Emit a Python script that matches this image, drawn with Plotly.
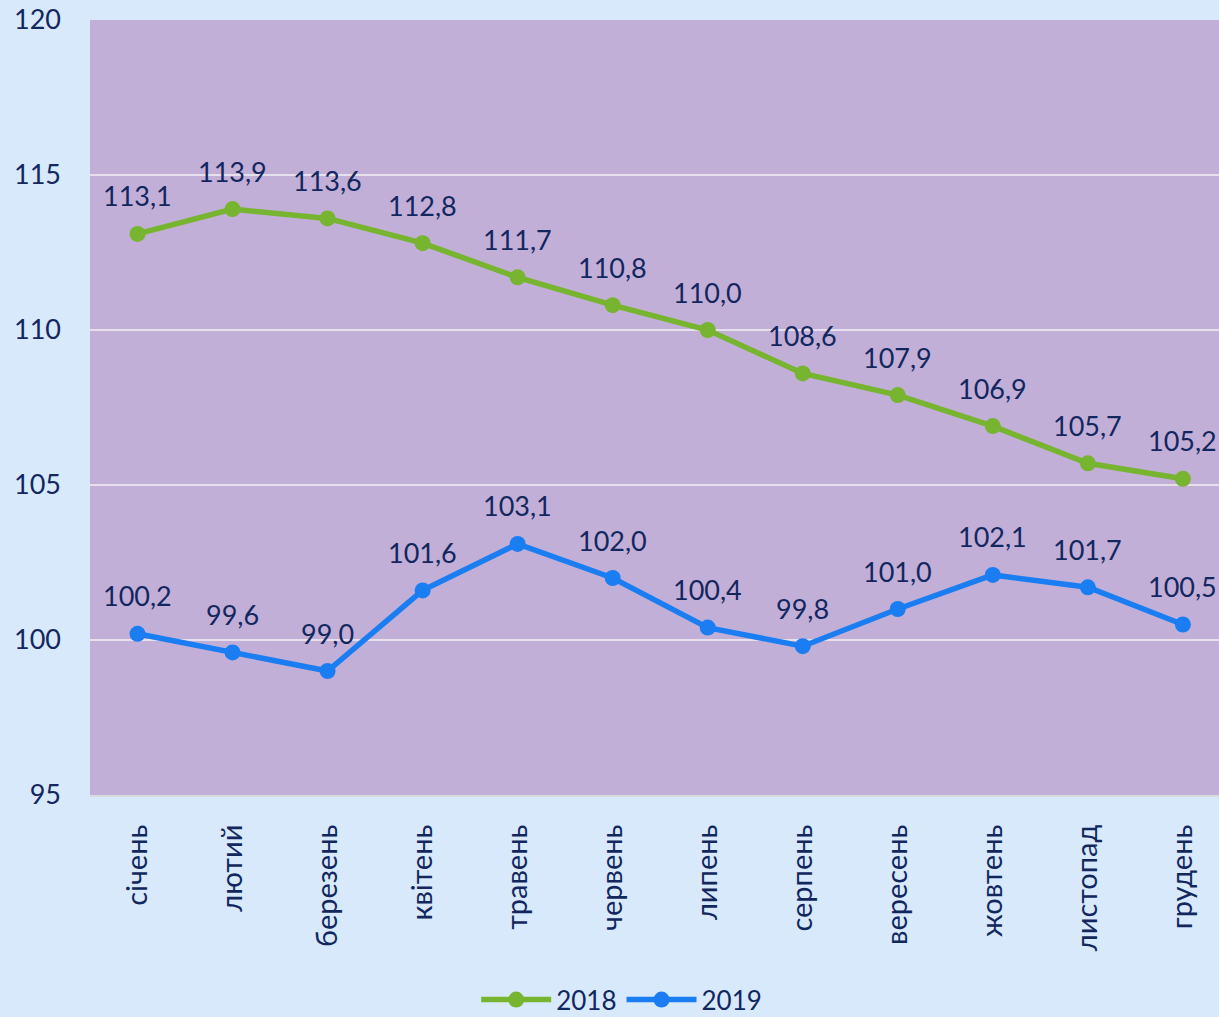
import plotly.graph_objects as go

months = ["січень", "лютий", "березень", "квітень", "травень", "червень",
          "липень", "серпень", "вересень", "жовтень", "листопад", "грудень"]
v2018 = [113.1, 113.9, 113.6, 112.8, 111.7, 110.8, 110.0, 108.6, 107.9, 106.9, 105.7, 105.2]
v2019 = [100.2, 99.6, 99.0, 101.6, 103.1, 102.0, 100.4, 99.8, 101.0, 102.1, 101.7, 100.5]
yticks = [95, 100, 105, 110, 115, 120]

FONT = "Lato, 'Open Sans', sans-serif"
TXT = "#12275E"
GREEN = "#77B42F"
BLUE = "#1A7EF2"

fig = go.Figure()
for name, vals, col in [("2018", v2018, GREEN), ("2019", v2019, BLUE)]:
    fig.add_trace(go.Scatter(
        x=months, y=vals, name=name, mode="lines+markers",
        line=dict(color=col, width=5.5),
        marker=dict(color=col, size=16),
    ))
    for m, v in zip(months, vals):
        fig.add_annotation(x=m, y=v, text=f"{v:.1f}".replace(".", ","),
                           showarrow=False, yshift=38,
                           font=dict(family=FONT, size=27, color=TXT))

fig.update_layout(
    width=1219, height=1017,
    margin=dict(l=90, r=0, t=20, b=222, autoexpand=False),
    paper_bgcolor="#D8E9FC", plot_bgcolor="#C2AFD8",
    font=dict(family=FONT, color=TXT, size=26),
    showlegend=True,
    legend=dict(orientation="h", x=0.51, xref="container", xanchor="center",
                y=0.017, yref="container", yanchor="middle",
                font=dict(size=26, color=TXT), itemwidth=70, tracegroupgap=0),
)
fig.update_xaxes(range=[-0.5, 11.38], tickangle=-90, showgrid=False,
                 showline=True, linecolor="#D9D9D9", linewidth=2,
                 ticks="", ticklabelstandoff=16,
                 tickfont=dict(size=29, color=TXT))
fig.update_yaxes(range=[95, 120], tickvals=yticks, showgrid=True,
                 gridcolor="#E6E0EC", gridwidth=2, zeroline=False,
                 ticks="", ticklabelstandoff=28,
                 tickfont=dict(size=27, color=TXT))
fig.write_html("out.html", config={"displayModeBar": False},
               post_script="document.body.style.margin='0';")
